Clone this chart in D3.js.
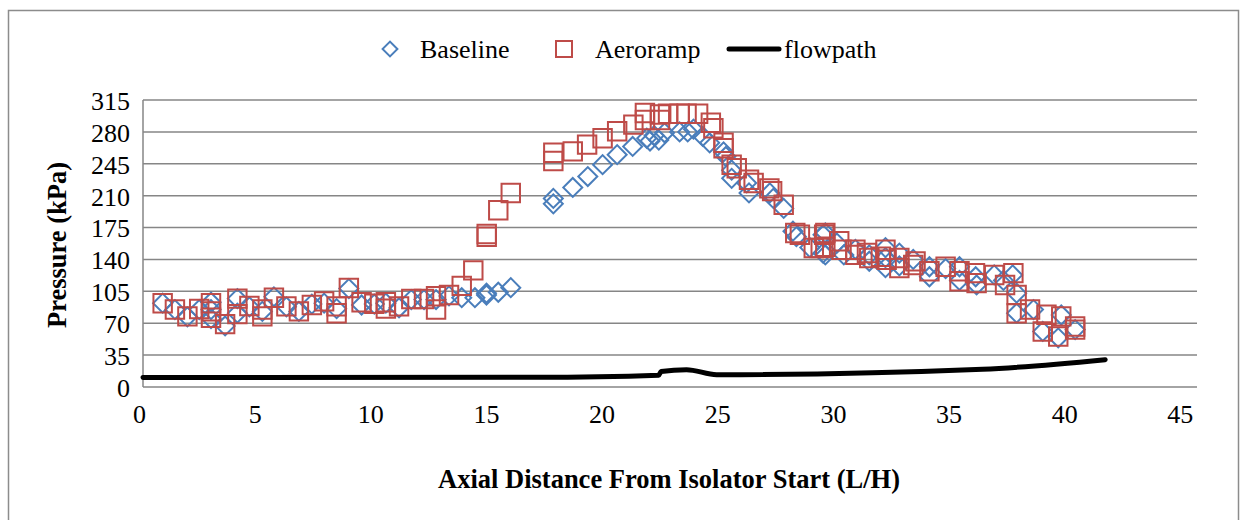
<!DOCTYPE html>
<html lang="en">
<head>
  <meta charset="utf-8">
  <title>Pressure vs axial distance</title>
  <script src="https://cdn.jsdelivr.net/npm/d3@7"></script>
  <style>
    body { margin: 0; background: #fff; }
    svg text { font-family: "Liberation Serif", "Times New Roman", serif; fill: #000; }
    .tick text { font-size: 26px; }
    .axisTitle { font-size: 26.5px; font-weight: bold; }
    .legendText { font-size: 26px; }
  </style>
</head>
<body>
<script>
  // Baseline (blue diamonds): [L/H, kPa]
  var baselineX = [0.85, 1.38, 1.92, 2.43, 2.94, 2.94, 2.94, 3.55, 4.08, 4.08, 4.6, 5.16, 5.66, 6.2, 6.74, 7.3, 7.83, 8.37,
    8.9, 9.45, 10, 10.5, 11.07, 11.6, 12.15, 12.67, 13.23, 13.78, 14.35, 14.85, 14.85, 15.36, 15.9,
    17.74, 17.74, 18.58, 19.23, 19.87, 20.5, 21.17, 21.78, 21.92, 22.1, 22.3, 22.55, 23.2, 23.55, 23.8, 24.2, 24.5,
    25.1, 25.2, 25.45, 25.45, 26.1, 26.2, 27.1, 27.25, 27.7, 28.1, 28.25, 28.83, 29.4, 29.4,
    29.5, 29.5, 30, 30.3, 30.8, 31.4, 31.4, 32.1, 32.1, 32.1, 32.7, 32.7, 33.3, 34, 34, 34.7, 35.3, 35.3,
    36, 36.04, 36.8, 37.2, 37.6, 37.77, 37.77, 38.5, 38.9, 39.57, 39.7, 40.3];
  var baselineY = [92, 85, 77, 85, 93, 85, 75, 67, 97, 81, 88, 83, 99, 88, 83, 91, 92, 86,
    108, 90, 91, 92, 87, 96, 96, 96, 100, 98, 98, 103, 101, 104, 109,
    207, 201, 219, 231, 244, 255, 264, 273, 270, 276, 271, 279, 280, 280, 283, 275, 268,
    258, 253, 238, 229, 224, 213, 213, 207, 196, 171, 165, 153, 167, 147,
    169, 145, 158, 145, 151, 145, 138, 153, 142, 131, 147, 133, 140, 132, 121, 130, 132, 117,
    121, 112, 123, 117, 123, 103, 81, 85, 61, 54, 79, 63];

  // Aeroramp (red squares): [L/H, kPa]
  var aeroX = [0.85, 1.38, 1.92, 2.43, 2.94, 2.94, 2.94, 3.55, 4.08, 4.08, 4.6, 5.16, 5.16, 5.66, 6.2, 6.74, 7.3, 7.83,
    8.37, 8.37, 8.9, 9.45, 10, 10.5, 10.5, 11.07, 11.6, 12.15, 12.67, 12.67, 13.23, 13.78, 14.28, 14.86, 14.86, 15.36, 15.9,
    17.74, 17.74, 18.58, 19.2, 19.87, 20.5, 21.2, 21.7, 21.7, 22.35, 22.35, 22.7, 23.2, 23.5, 24, 24.55, 24.66,
    25.1, 25.1, 25.45, 25.67, 26.2, 26.4, 27.08, 27.2, 27.7, 28.2, 28.4, 29, 29.45,
    29.5, 29.5, 29.3, 30.1, 30.2, 30.8, 30.8, 31.3, 31.4, 32.1, 32.15, 31.9, 32.7, 32.7, 33.4, 33.3, 34, 34.7, 35.3, 35.3,
    35.97, 36.04, 36.8, 37.27, 37.63, 37.77, 37.77, 38.35, 38.9, 39.06, 39.57, 39.7, 40.3, 40.3];
  var aeroY = [92, 85, 77.5, 85.6, 92, 83, 76, 69, 97, 80, 89, 85, 77.5, 98, 88.5, 83, 90, 94,
    88.5, 81, 108.7, 93, 91.4, 93, 86, 88.5, 96.6, 96.6, 99.5, 85, 101, 111, 128, 168, 165, 194, 213,
    257, 248, 258.6, 266, 273, 280.6, 288, 300.8, 293, 299, 293, 300, 300, 300, 300, 290, 284,
    268, 262, 244, 240, 227.5, 224, 218, 215, 200, 169, 167, 152.6, 167,
    169, 154, 152.6, 160, 150.7, 150.7, 145, 147, 141.6, 150.7, 139.7, 143, 141.6, 130.6, 137.9, 134, 127, 132, 127, 116,
    125, 114, 123, 112, 125, 101, 81, 85, 61, 79.4, 55.5, 77.5, 66.5, 63];

  // flowpath (black line)
  var flowX = [0, 17, 22.3, 22.4, 23.5, 24.8, 36.3, 41.6];
  var flowY = [10.5, 10.7, 13, 17, 19, 13.5, 19.5, 30];

  var xTicks = d3.range(0, 46, 5);
  var yTicks = d3.range(0, 316, 35);

  var W = 1241, H = 520;
  var plot = { left: 143, top: 100, right: 1197, bottom: 387 };
  var serif = "'Liberation Serif', 'Times New Roman', serif";

  var svg = d3.select("body").append("svg")
    .attr("width", W)
    .attr("height", H)
    .attr("font-family", serif);

  svg.append("rect").attr("width", W).attr("height", H).attr("fill", "#fff");

  // chart border
  svg.append("rect")
    .attr("x", 8.5).attr("y", 10.5)
    .attr("width", 1230).attr("height", 520)
    .attr("fill", "none")
    .attr("stroke", "#8c8c8c")
    .attr("stroke-width", 1.5);

  var x = d3.scaleLinear().domain([0, 45]).range([plot.left, plot.left + 45 * 23.13]);
  var y = d3.scaleLinear().domain([0, 315]).range([plot.bottom, plot.top]);

  // horizontal gridlines
  svg.append("g")
    .selectAll("line")
    .data(yTicks)
    .enter().append("line")
    .attr("x1", plot.left).attr("x2", plot.right)
    .attr("y1", function (d) { return y(d); })
    .attr("y2", function (d) { return y(d); })
    .attr("stroke", "#868686")
    .attr("stroke-width", 1.5);

  // left axis line
  svg.append("line")
    .attr("x1", plot.left).attr("x2", plot.left)
    .attr("y1", plot.top).attr("y2", plot.bottom)
    .attr("stroke", "#868686")
    .attr("stroke-width", 1.5);

  var yAxis = svg.append("g")
    .attr("transform", "translate(" + plot.left + ",0)")
    .call(d3.axisLeft(y).tickValues(yTicks).tickSize(0).tickPadding(13));
  yAxis.select(".domain").remove();
  yAxis.selectAll("text").attr("dy", "0.36em").attr("font-family", serif);

  var xAxis = svg.append("g")
    .attr("transform", "translate(-4," + plot.bottom + ")")
    .call(d3.axisBottom(x).tickValues(xTicks).tickSize(0).tickPadding(18));
  xAxis.select(".domain").remove();
  xAxis.selectAll("text").attr("font-family", serif);

  // flowpath
  var line = d3.line()
    .x(function (d) { return x(d[0]); })
    .y(function (d) { return y(d[1]); })
    .curve(d3.curveMonotoneX);
  svg.append("path")
    .datum(d3.zip(flowX, flowY))
    .attr("d", line)
    .attr("fill", "none")
    .attr("stroke", "#000")
    .attr("stroke-width", 5)
    .attr("stroke-linecap", "round");

  var blue = "#4a7ebb", red = "#be4b48";

  // baseline diamonds
  var diamond = d3.symbol().type(d3.symbolSquare).size(180);
  svg.append("g")
    .selectAll("path")
    .data(d3.zip(baselineX, baselineY))
    .enter().append("path")
    .attr("d", diamond)
    .attr("transform", function (d) { return "translate(" + x(d[0]) + "," + y(d[1]) + ") rotate(45)"; })
    .attr("fill", "none")
    .attr("stroke", blue)
    .attr("stroke-width", 2);

  // aeroramp squares
  var square = d3.symbol().type(d3.symbolSquare).size(340);
  svg.append("g")
    .selectAll("path")
    .data(d3.zip(aeroX, aeroY))
    .enter().append("path")
    .attr("d", square)
    .attr("transform", function (d) { return "translate(" + x(d[0]) + "," + y(d[1]) + ")"; })
    .attr("fill", "none")
    .attr("stroke", red)
    .attr("stroke-width", 2);

  // axis titles
  svg.append("text")
    .attr("class", "axisTitle")
    .attr("font-family", serif)
    .attr("x", 669).attr("y", 488)
    .attr("text-anchor", "middle")
    .text("Axial Distance From Isolator Start (L/H)");

  svg.append("text")
    .attr("class", "axisTitle")
    .attr("font-family", serif)
    .attr("transform", "translate(66,245) rotate(-90)")
    .attr("text-anchor", "middle")
    .text("Pressure (kPa)");

  // legend
  var legend = svg.append("g").attr("font-family", serif);
  legend.append("path")
    .attr("d", d3.symbol().type(d3.symbolSquare).size(110))
    .attr("transform", "translate(390,49) rotate(45)")
    .attr("fill", "none").attr("stroke", blue).attr("stroke-width", 2);
  legend.append("text").attr("class", "legendText").attr("x", 420).attr("y", 58).text("Baseline");
  legend.append("rect")
    .attr("x", 556).attr("y", 41).attr("width", 16).attr("height", 16)
    .attr("fill", "none").attr("stroke", red).attr("stroke-width", 2);
  legend.append("text").attr("class", "legendText").attr("x", 595).attr("y", 58).text("Aeroramp");
  legend.append("line")
    .attr("x1", 729).attr("x2", 779).attr("y1", 49).attr("y2", 49)
    .attr("stroke", "#000").attr("stroke-width", 5).attr("stroke-linecap", "round");
  legend.append("text").attr("class", "legendText").attr("x", 784).attr("y", 58).text("flowpath");
</script>
</body>
</html>
